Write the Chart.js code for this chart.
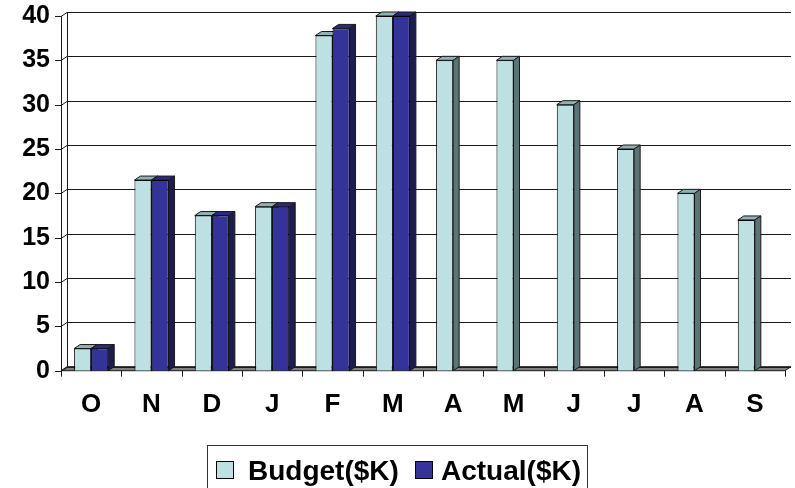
<!DOCTYPE html>
<html><head><meta charset="utf-8">
<script src="https://cdn.jsdelivr.net/npm/chart.js@4/dist/chart.umd.min.js"></script>
<style>html,body{margin:0;padding:0;background:#fff;}#wrap{width:795px;height:488px;position:relative}</style>
</head><body><div id="wrap"><canvas id="c" width="795" height="488"></canvas></div>
<script>
const categories = ['O','N','D','J','F','M','A','M','J','J','A','S'];
const budget = [2.5, 21.5, 17.5, 18.5, 37.8, 40, 35, 35, 30, 25, 20, 17];
const actual = [2.5, 21.5, 17.5, 18.5, 38.6, 40, null, null, null, null, null, null];
const seriesNames = ['Budget($K)', 'Actual($K)'];
const yMin = 0, yMax = 40, yStep = 5;

const DX = 6, DY = -4;
const FONT = '"Liberation Sans", Arial, sans-serif';
const faces = [
  {front:'#BDE0E3', top:'#8FB2B4', side:'#5B7476'},
  {front:'#333399', top:'#2A2A80', side:'#1C1C50'}
];

const plugin3d = {
  id: 'plugin3d',
  beforeDatasetsDraw(chart) {
    const {ctx, chartArea: a, scales: {x, y}} = chart;
    ctx.save();
    ctx.lineWidth = 1;
    ctx.strokeStyle = '#1a1a1a';
    const b = a.bottom;
    ctx.fillStyle = '#808080';
    ctx.beginPath();
    ctx.moveTo(a.left, b); ctx.lineTo(a.right, b);
    ctx.lineTo(a.right + DX, b + DY); ctx.lineTo(a.left + DX, b + DY);
    ctx.closePath(); ctx.fill(); ctx.stroke();
    for (let v = yMin; v <= yMax; v += yStep) {
      const py = Math.round(y.getPixelForValue(v)) + 0.5;
      ctx.beginPath();
      ctx.moveTo(a.left + DX, py + DY); ctx.lineTo(a.right + DX, py + DY);
      ctx.moveTo(a.left, py); ctx.lineTo(a.left + DX, py + DY);
      ctx.moveTo(a.left - 6, py); ctx.lineTo(a.left, py);
      ctx.stroke();
    }
    ctx.beginPath();
    ctx.moveTo(a.left + 0.5, y.getPixelForValue(yMax)); ctx.lineTo(a.left + 0.5, b);
    ctx.moveTo(a.left + DX + 0.5, y.getPixelForValue(yMax) + DY); ctx.lineTo(a.left + DX + 0.5, b + DY);
    ctx.stroke();
    ctx.beginPath();
    for (let i = 0; i <= categories.length; i++) {
      const px = Math.round(a.left + (a.right - a.left) * i / categories.length) + 0.5;
      ctx.moveTo(px, b); ctx.lineTo(px, b + 6);
    }
    ctx.stroke();
    chart.data.datasets.forEach((ds, i) => {
      const meta = chart.getDatasetMeta(i);
      meta.data.forEach((bar, j) => {
        if (ds.data[j] == null) return;
        const p = bar.getProps(['x', 'y', 'base', 'width'], true);
        const l = p.x - p.width / 2, r = p.x + p.width / 2;
        ctx.fillStyle = faces[i].top;
        ctx.beginPath();
        ctx.moveTo(l, p.y); ctx.lineTo(l + DX, p.y + DY); ctx.lineTo(r + DX, p.y + DY); ctx.lineTo(r, p.y);
        ctx.closePath(); ctx.fill(); ctx.stroke();
        ctx.fillStyle = faces[i].side;
        ctx.beginPath();
        ctx.moveTo(r, p.y); ctx.lineTo(r + DX, p.y + DY); ctx.lineTo(r + DX, p.base + DY); ctx.lineTo(r, p.base);
        ctx.closePath(); ctx.fill(); ctx.stroke();
      });
    });
    ctx.restore();
  },
  afterDraw(chart) {
    const ctx = chart.ctx;
    ctx.save();
    ctx.strokeStyle = '#333';
    ctx.lineWidth = 1;
    ctx.strokeRect(207.5, 445.5, 380, 60);
    const items = [{x: 216, tx: 248}, {x: 415, tx: 441}];
    ctx.font = 'bold 28px ' + FONT;
    ctx.textBaseline = 'alphabetic';
    ctx.textAlign = 'left';
    items.forEach((it, i) => {
      ctx.fillStyle = faces[i].front;
      ctx.fillRect(it.x + 0.5, 461.5, 17, 17);
      ctx.strokeStyle = '#000';
      ctx.strokeRect(it.x + 0.5, 461.5, 17, 17);
      ctx.fillStyle = '#000';
      ctx.fillText(seriesNames[i], it.tx, 480);
    });
    ctx.restore();
  }
};

new Chart(document.getElementById('c'), {
  type: 'bar',
  data: {
    labels: categories,
    datasets: [
      {label: seriesNames[0], data: budget, backgroundColor: faces[0].front, borderColor: '#000', borderWidth: 1,
       categoryPercentage: 0.565, barPercentage: 1.0},
      {label: seriesNames[1], data: actual, backgroundColor: faces[1].front, borderColor: '#000', borderWidth: 1,
       categoryPercentage: 0.565, barPercentage: 1.0}
    ]
  },
  options: {
    responsive: false,
    animation: false,
    devicePixelRatio: 1,
    layout: {padding: {top: 16, right: 10, left: 0, bottom: 0}},
    plugins: {legend: {display: false}, tooltip: {enabled: false}},
    scales: {
      x: {
        grid: {display: false, drawTicks: false},
        border: {display: false},
        ticks: {color: '#000', font: {family: FONT, size: 26, weight: 'bold'}, padding: 19, maxRotation: 0},
        afterFit(s) { s.height = 117.3; s.paddingLeft = 0; s.paddingRight = 0; }
      },
      y: {
        min: yMin, max: yMax,
        grid: {display: false, drawTicks: false},
        border: {display: false},
        ticks: {stepSize: yStep, color: '#000', font: {family: FONT, size: 25, weight: 'bold'}, padding: 11},
        afterFit(s) { s.width = 61; s.paddingTop = 0; s.paddingBottom = 0; }
      }
    }
  },
  plugins: [plugin3d]
});
</script></body></html>
